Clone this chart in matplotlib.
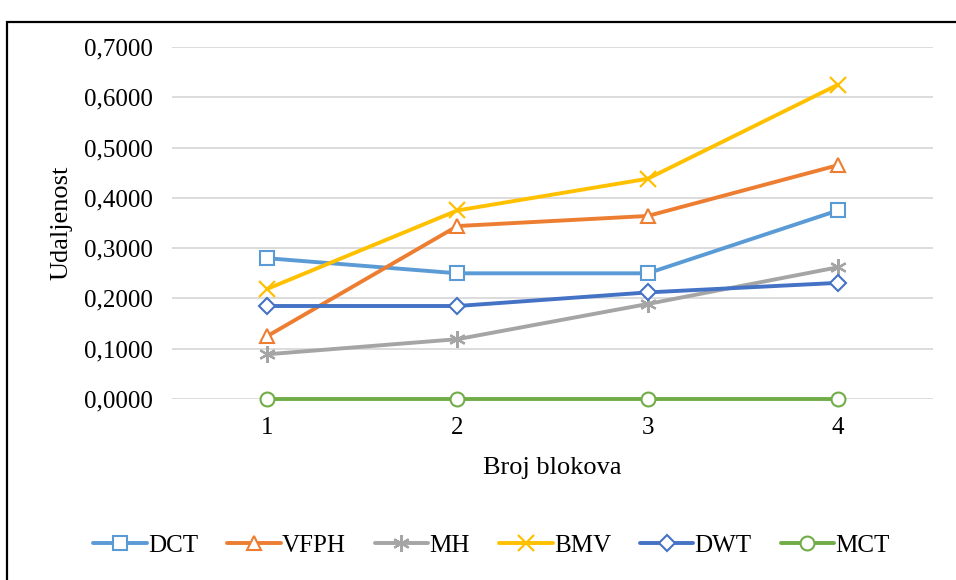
import matplotlib
matplotlib.use("Agg")
import matplotlib.pyplot as plt
from matplotlib.patches import Rectangle
from matplotlib.ticker import FuncFormatter

categories = ["1", "2", "3", "4"]
dct = [0.280, 0.250, 0.250, 0.375]
vfph = [0.125, 0.344, 0.364, 0.465]
mh = [0.089, 0.119, 0.189, 0.262]
bmv = [0.219, 0.375, 0.438, 0.625]
dwt = [0.185, 0.185, 0.212, 0.231]
mct = [0.0, 0.0, 0.0, 0.0]

series = [
    ("DCT", dct, "#5B9BD5", "s"),
    ("VFPH", vfph, "#ED7D31", "^"),
    ("MH", mh, "#A5A5A5", (6, 2, 0)),
    ("BMV", bmv, "#FFC000", "x"),
    ("DWT", dwt, "#4472C4", "D"),
    ("MCT", mct, "#70AD47", "o"),
]

plt.rcParams['font.family'] = ['Liberation Serif', 'DejaVu Serif']

fig = plt.figure(figsize=(9.56, 5.80), dpi=100)
ax = fig.add_axes([0.180, 0.312, 0.796, 0.607])

x = list(range(1, len(categories) + 1))
for name, vals, col, mk in series:
    if mk in ("x", (6, 2, 0)):
        ax.plot(x, vals, color=col, lw=2.8, marker=mk, ms=12, mew=1.6,
                label=name, solid_capstyle='round', zorder=3, clip_on=False)
    else:
        ms = 8.5 if mk == "D" else 10
        ax.plot(x, vals, color=col, lw=2.8, marker=mk, ms=ms, mew=1.5,
                mfc='white', mec=col, label=name, solid_capstyle='round',
                zorder=3, clip_on=False)

ax.set_xlim(0.5, 4.5)
ax.set_ylim(0, 0.7)
ax.set_xticks(x)
ax.set_xticklabels(categories)
ax.set_yticks([0, 0.1, 0.2, 0.3, 0.4, 0.5, 0.6, 0.7])
ax.yaxis.set_major_formatter(FuncFormatter(lambda v, p: f"{v:.4f}".replace(".", ",")))
ax.tick_params(axis='both', length=0, labelsize=18, colors='black')
ax.tick_params(axis='y', pad=14)
ax.tick_params(axis='x', pad=13)
ax.grid(axis='y', color='#D9D9D9', lw=1.3)
ax.set_axisbelow(True)
for s in ax.spines.values():
    s.set_visible(False)

ax.set_ylabel("Udaljenost", fontsize=19, labelpad=8)
ax.set_xlabel("Broj blokova", fontsize=19, labelpad=13)

leg = fig.legend(loc='center', bbox_to_anchor=(0.514, 0.059), ncol=6, frameon=False,
                 fontsize=18, handlelength=2.15, handletextpad=0.05, columnspacing=1.15)

fig.patches.append(Rectangle((7 / 956, -0.1), 1.2, (1 - 22 / 580) + 0.1,
                             transform=fig.transFigure, fill=False,
                             edgecolor='black', lw=1.6))

fig.savefig("out.png", dpi=100)
